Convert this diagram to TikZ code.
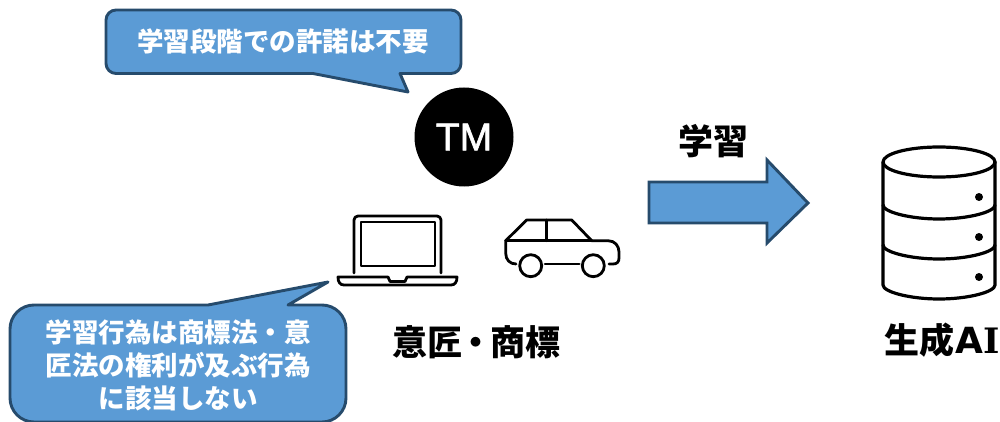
\documentclass[tikz,border=0pt]{standalone}
\usepackage{fontspec}
\setmainfont{Noto Sans CJK JP}
\newfontfamily\latinf[FakeBold=1.5]{Liberation Sans}
\newfontfamily\wideb{DejaVu Sans}
\newfontfamily\serifb{DejaVu Serif}
\definecolor{fillblue}{HTML}{5B9BD5}
\definecolor{edgeblue}{HTML}{264B6C}
\tikzset{
  x=1pt,y=-1pt,
  callout/.style={fill=fillblue,draw=edgeblue,line width=2.9pt,line join=round},
  calltext/.style={text=white,font=\fontsize{26.5}{33}\selectfont\bfseries,align=center,inner sep=0pt},
  headtext/.style={text=black,font=\bfseries,inner sep=0pt},
  icon/.style={draw=black,line width=2.8pt,line cap=round,line join=round},
}
\begin{document}
\begin{tikzpicture}
\useasboundingbox (0,0) rectangle (1000,422);
% top callout
\draw[callout] (116,10) -- (451,10) arc[start angle=-90,end angle=0,radius=10] -- (461,63.5) arc[start angle=0,end angle=90,radius=10] -- (400,73.5) -- (408,92) -- (313,73.5) -- (116,73.5) arc[start angle=90,end angle=180,radius=10] -- (106,20) arc[start angle=180,end angle=270,radius=10] -- cycle;
\node[calltext] (t1) at (283,41) {学習段階での許諾は不要};
% bottom callout
\draw[callout] (34,305) -- (208,305) -- (328,282) -- (288,305) -- (322,305) arc[start angle=-90,end angle=0,radius=24] -- (346,398) arc[start angle=0,end angle=90,radius=24] -- (34,422) arc[start angle=90,end angle=180,radius=24] -- (10,329) arc[start angle=180,end angle=270,radius=24] -- cycle;
\node[calltext] (t2) at (178,365) {学習行為は商標法・意\\匠法の権利が及ぶ行為\\に該当しない};
% TM
\node[circle,fill=black,minimum size=99pt,inner sep=0pt,text=white,font=\latinf\fontsize{39}{39}\selectfont] (tm) at (464,137) {TM};
% arrow
\draw[fill=fillblue,draw=edgeblue,line width=2.9pt,line join=miter] (649,182) -- (767,182) -- (767,160) -- (808,203) -- (767,243) -- (767,223) -- (649,223) -- cycle;
\node[headtext,font=\bfseries\fontsize{35}{35}\selectfont] (learn) at (713,141) {学習};
% laptop
\draw[icon] (354,273) -- (354,220) arc[start angle=180,end angle=270,radius=4] -- (437,216) arc[start angle=-90,end angle=0,radius=4] -- (441,273);
\draw[icon] (361,222) rectangle (435,266);
\draw[icon] (338,277) -- (388,277) -- (390,281.5) -- (405,281.5) -- (407,277) -- (457,277) .. controls (457,282) and (455,285) .. (451,285) -- (344,285) .. controls (340,285) and (338,282) .. (338,277) -- cycle;
% car
\draw[icon] (516,264) .. controls (510,264) and (505.7,260) .. (505.7,253) -- (505.7,240.7) -- (526.7,220) -- (571.7,220) -- (591.7,240.7) -- (608,240.7) .. controls (615,240.7) and (619,246) .. (619,252) -- (619,258) .. controls (619,262) and (617,264) .. (613,264) -- (609,264);
\draw[icon] (505.7,240.7) -- (591.7,240.7);
\draw[icon] (546.7,220) -- (546.7,240.7);
\draw[icon] (545,264) -- (579.3,264);
\draw[icon] (530.7,265.7) circle[radius=11];
\draw[icon] (593.3,265.7) circle[radius=11];
% database
\draw[icon,line width=3.2pt] (939,162) ellipse[x radius=56,y radius=15];
\draw[icon,line width=3.2pt] (883,162) -- (883,285) .. controls (883,292) and (910,299) .. (939,299) .. controls (968,299) and (995,292) .. (995,285) -- (995,162);
\draw[icon,line width=3.2pt] (883,205) .. controls (883,212) and (910,219) .. (939,219) .. controls (968,219) and (995,212) .. (995,205);
\draw[icon,line width=3.2pt] (883,245) .. controls (883,252) and (910,259) .. (939,259) .. controls (968,259) and (995,252) .. (995,245);
\fill (979,197) circle[radius=4];
\fill (979,237) circle[radius=4];
\fill (979,277) circle[radius=4];
% labels
\node[headtext,font=\bfseries\fontsize{35}{35}\selectfont] (design) at (476,342) {意匠\hspace{-3.5pt}・\hspace{-3.5pt}商標};
\node[headtext,font=\bfseries\fontsize{35}{35}\selectfont,anchor=west] (genai) at (884,340) {生成\hspace{1pt}{\wideb\bfseries\fontsize{36}{36}\selectfont A}\hspace{0pt}{\serifb\bfseries\fontsize{35}{35}\selectfont I}};
\end{tikzpicture}
\end{document}
